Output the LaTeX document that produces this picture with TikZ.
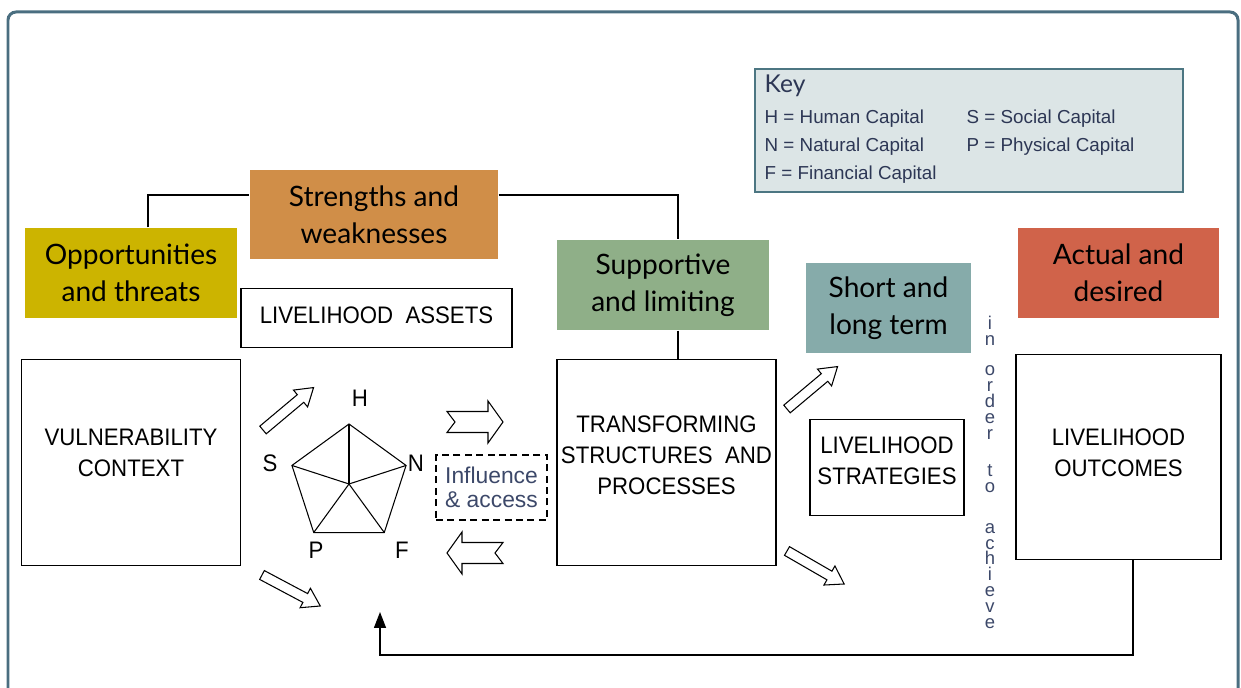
\documentclass[tikz,border=0pt]{standalone}
\usepackage{fontspec}
\setmainfont{Lato}
\newfontfamily\narrowfont[FakeStretch=0.93]{Liberation Sans}
\newfontfamily\plainsans{Liberation Sans}
\usetikzlibrary{arrows.meta,positioning,calc}

\definecolor{oppyellow}{RGB}{204,180,0}
\definecolor{swtan}{RGB}{208,142,72}
\definecolor{supgreen}{RGB}{143,175,136}
\definecolor{sltteal}{RGB}{134,171,170}
\definecolor{adred}{RGB}{208,99,74}
\definecolor{keyfill}{RGB}{220,229,230}
\definecolor{keyline}{RGB}{76,118,130}
\definecolor{frameline}{RGB}{74,110,128}
\definecolor{keyink}{RGB}{45,55,85}
\definecolor{softink}{RGB}{60,72,105}

\newlength\unitpx
\setlength\unitpx{0.02cm}
% invisible depth, lifts the lines of a box a little
\newcommand{\liftby}[1]{\rule[-#1]{0pt}{#1}}

\tikzset{
  band/.style={fill=#1, align=center, inner sep=0pt,
    font=\fontsize{16}{21}\selectfont},
  capbox/.style={draw, fill=white, align=center, inner sep=0pt,
    font=\narrowfont\fontsize{13.6}{17.5}\selectfont},
  dashbox/.style={draw, dash pattern=on 4pt off 2.5pt, align=center, inner sep=0pt,
    text=softink, font=\plainsans\fontsize{13}{13.6}\selectfont},
  keybox/.style={draw=keyline, fill=keyfill, line width=1pt},
  keyhead/.style={text=keyink, inner sep=0pt, font=\fontsize{14}{15}\selectfont},
  keytext/.style={text=keyink, inner sep=0pt, font=\plainsans\fontsize{10.7}{12}\selectfont},
  corner/.style={inner sep=0pt, font=\narrowfont\fontsize{13.6}{15}\selectfont},
  vtext/.style={text=softink, align=center, inner sep=0pt,
    font=\plainsans\fontsize{10.5}{9.07}\selectfont},
  frame/.style={draw=frameline, line width=1.7pt, rounded corners=0.16cm},
  fatarrow/.pic={\draw[line width=0.6pt, fill=white]
    (0,-5) -- (49,-5) -- (49,-11) -- (66,0) -- (49,11) -- (49,5) -- (0,5) -- cycle;},
  notcharrow/.pic={\draw[line width=0.6pt, fill=white]
    (0,-10.5) -- (41,-10.5) -- (41,-21) -- (56,0) -- (41,21) -- (41,10.5) -- (0,10.5) -- (8,0) -- cycle;}
}

\begin{document}
\begin{tikzpicture}[x=0.02cm, y=-0.02cm, line width=0.8pt]
  \useasboundingbox (0,0) rectangle (1241,688);
  \draw[frame] (8,12) rectangle (1238,740);

  % coloured headings
  \node[band=oppyellow, minimum width=212\unitpx, minimum height=90\unitpx] (opp) at (131,273) {Opportunities\\and threats};
  \node[band=swtan, minimum width=248\unitpx, minimum height=89\unitpx] (sw) at (374,214.5) {Strengths and\\weaknesses};
  \node[band=supgreen, minimum width=212\unitpx, minimum height=90\unitpx] (sup) at (663,285) {Supportive\\and limiting};
  \node[band=sltteal, minimum width=165\unitpx, minimum height=90\unitpx] (slt) at (888.5,308) {Short and\\long term};
  \node[band=adred, minimum width=201\unitpx, minimum height=90\unitpx] (ad) at (1118.5,273) {Actual and\\desired};

  % main boxes
  \node[capbox, minimum width=219\unitpx, minimum height=206\unitpx, below=0.8cm of opp] (VC) {VULNERABILITY\\CONTEXT\liftby{11pt}};
  \node[capbox, minimum width=271\unitpx, minimum height=59\unitpx, below=0.56cm of sw, xshift=2.5\unitpx] (LA) {LIVELIHOOD\ \ ASSETS\liftby{3pt}};
  \node[capbox, minimum width=219\unitpx, minimum height=206\unitpx, below=0.56cm of sup, xshift=3.5\unitpx] (TS) {TRANSFORMING\\STRUCTURES\ \ AND\\PROCESSES\liftby{8pt}};
  \node[capbox, minimum width=154\unitpx, minimum height=96\unitpx, below=1.3cm of slt, xshift=-1.5\unitpx] (LS) {LIVELIHOOD\\STRATEGIES\liftby{8pt}};
  \node[capbox, minimum width=205\unitpx, minimum height=205\unitpx, below=0.7cm of ad] (LO) {LIVELIHOOD\\OUTCOMES\liftby{4.5pt}};
  \node[dashbox, minimum width=111\unitpx, minimum height=65\unitpx] (IA) at (491.5,487.5) {Influence\\\&\ access};

  % key
  \node[keybox, minimum width=428\unitpx, minimum height=123\unitpx] (key) at (969,130.5) {};
  \node[keyhead, anchor=west] (keyt) at (764,86) {Key};
  \node[keytext, anchor=west] (kh) at (764,119) {H = Human Capital};
  \node[keytext, anchor=west] (kn) at (764,147) {N = Natural Capital};
  \node[keytext, anchor=west] (kf) at (764,175) {F = Financial Capital};
  \node[keytext, anchor=west] (ks) at (966,119) {S = Social Capital};
  \node[keytext, anchor=west] (kp) at (966,147) {P = Physical Capital};

  % top bracket
  \coordinate (tl) at (148,195);
  \coordinate (tr) at (678,195);
  \draw (tl |- opp.north) -- (tl) -- (sw.west |- tl);
  \draw (sw.east |- tr) -- (tr) -- (tr |- sup.north);
  \draw (tr |- sup.south) -- (tr |- TS.north);

  % asset pentagon
  \coordinate (pc) at (349,484);
  \foreach \v/\a in {h/-90, n/-18, f/54, p/126, s/198}
    \coordinate (\v) at ($(pc)+(\a:60)$);
  \draw[line width=0.6pt] (h) -- (n) -- (f) -- (p) -- (s) -- cycle;
  \foreach \v in {h,n,f,p,s}
    \draw[line width=0.6pt] (pc) -- (\v);
  \node[corner] (lh) at (360,398) {H};
  \node[corner] (ln) at (416,463) {N};
  \node[corner] (lf) at (402,550) {F};
  \node[corner] (lp) at (316,550) {P};
  \node[corner] (ls) at (270,463) {S};

  % hollow arrows
  \pic[rotate=40] at (263,430) {fatarrow};
  \pic[rotate=-28] at (262,575) {fatarrow};
  \pic[rotate=40] at (787,409) {fatarrow};
  \pic[rotate=-30] at (787,551) {fatarrow};
  \pic at (447,422) {notcharrow};
  \pic[rotate=180] at (503,553) {notcharrow};

  % in order to achieve
  \node[vtext, anchor=north] (ioa) at (990,315) {i\\n\\[8.5pt]o\\r\\d\\e\\r\\[12pt]t\\o\\[14pt]a\\c\\h\\i\\e\\v\\e};

  % feedback
  \coordinate (fbcorner) at (1133,655);
  \coordinate (fbend) at (380,612);
  \draw[-{Triangle[length=0.32cm,width=0.24cm]}] (LO.south -| fbcorner) -- (fbcorner) -| (fbend);
\end{tikzpicture}
\end{document}
